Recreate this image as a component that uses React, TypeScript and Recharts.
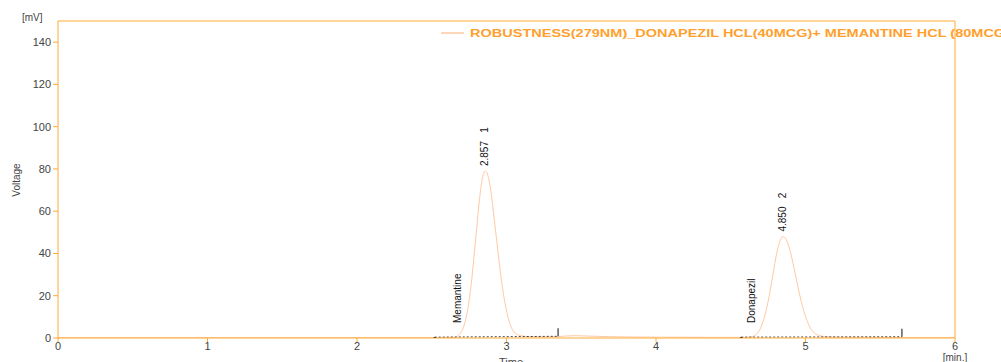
import { ComposedChart, Line, Scatter, XAxis, YAxis, ReferenceLine } from 'recharts';

// ─── Data ────────────────────────────────────────────────────────────────────

const times = [
  0, 0.5, 1, 1.5, 2, 2.4, 2.6, 2.65, 2.7, 2.73, 2.76, 2.79, 2.82, 2.84, 2.857, 2.87, 2.89, 2.92,
  2.95, 2.98, 3.01, 3.05, 3.1, 3.16, 3.25, 3.35, 3.45, 3.55, 3.7, 4.0, 4.4, 4.6, 4.65, 4.7, 4.74,
  4.78, 4.81, 4.83, 4.85, 4.87, 4.9, 4.93, 4.97, 5.01, 5.05, 5.1, 5.16, 5.25, 5.4, 5.7, 6.0,
];
const voltage = [
  0.2, 0.2, 0.2, 0.2, 0.2, 0.2, 0.2, 0.3, 3.2, 9.7, 23, 44, 66, 76, 79, 78, 72, 55,
  36.5, 20.6, 9.9, 2.9, 1.0, 0.6, 0.5, 0.7, 1.1, 0.9, 0.6, 0.4, 0.3, 0.3, 0.8, 4.8, 14,
  29, 41, 46, 48, 46.7, 40.4, 30.8, 17.7, 8.2, 3.0, 1.0, 0.5, 0.3, 0.3, 0.2, 0.2,
];

// integration baselines: [start, end] time and level
const base1T = [2.52, 3.345];
const base1V = [0.4, 0.8];
const base2T = [4.57, 5.645];
const base2V = [0.4, 0.6];

const peakTimes = [2.857, 4.85];
const peakHeights = [79, 48];
const peakLabels = ['2.857   1', '4.850   2'];
const peakNames = ['Memantine', 'Donapezil'];
const nameTimes = [2.675, 4.64];

const yTicks = [0, 20, 40, 60, 80, 100, 120, 140];
const xTicks = [0, 1, 2, 3, 4, 5, 6];

const seriesName = 'ROBUSTNESS(279NM)_DONAPEZIL HCL(40MCG)+ MEMANTINE HCL (80MCG)';

// ─── Styling ─────────────────────────────────────────────────────────────────

const AXIS = '#FFAA33';
const TRACE = '#FFC9A3';
const LEGEND = '#FF9F2E';
const TEXT = '#444';
const FONT = '"Liberation Sans", Arial, sans-serif';
const NARROW = '"Liberation Sans Narrow", "Liberation Sans", Arial, sans-serif';

const trace = times.map((t, i) => ({ t, v: voltage[i] }));
const baseline1 = base1T.map((t, i) => ({ t, v: base1V[i] }));
const baseline2 = base2T.map((t, i) => ({ t, v: base2V[i] }));
const peaks = peakTimes.map((t, i) => ({ t, v: peakHeights[i], label: peakLabels[i] }));
const names = nameTimes.map((t, i) => ({ t, v: 0, label: peakNames[i] }));

// start of a baseline: small block below; end: short tick up
function BaseMark(props: any) {
  const { cx, cy, index } = props;
  if (cx == null || cy == null) return null;
  if (index === 0) {
    return <rect x={cx - 1} y={cy} width={2} height={3} fill="#222" />;
  }
  return <line x1={cx} x2={cx} y1={cy} y2={cy - 8} stroke="#333" strokeWidth={1.2} />;
}

function PeakLabel(props: any) {
  const { cx, cy, payload } = props;
  const x = cx + 3;
  const y = cy - 5;
  return (
    <text
      x={x}
      y={y}
      transform={`rotate(-90 ${x} ${y})`}
      fontSize={10}
      fontFamily={NARROW}
      fill="#111"
      style={{ whiteSpace: 'pre' }}
    >
      {payload.label}
    </text>
  );
}

function NameLabel(props: any) {
  const { cx, cy, payload } = props;
  const x = cx + 3;
  const y = cy - 15;
  return (
    <text x={x} y={y} transform={`rotate(-90 ${x} ${y})`} fontSize={10} fontFamily={NARROW} fill="#111">
      {payload.label}
    </text>
  );
}

export default function App() {
  return (
    <div style={{ position: 'absolute', left: 0, top: 0, width: 1001, height: 362, background: '#fff', overflow: 'hidden' }}>
      <ComposedChart width={1001} height={362} margin={{ top: 21, right: 46, bottom: 0, left: 0 }}>
        <XAxis
          type="number"
          dataKey="t"
          domain={[0, 6]}
          ticks={xTicks}
          height={24}
          stroke={AXIS}
          tickSize={4}
          tick={{ fill: TEXT, fontSize: 11, fontFamily: FONT, dy: -2 }}
          allowDataOverflow
        />
        <YAxis
          type="number"
          dataKey="v"
          domain={[0, 150]}
          ticks={yTicks}
          width={58}
          stroke={AXIS}
          tickSize={5}
          tick={{ fill: TEXT, fontSize: 11, fontFamily: FONT }}
          allowDataOverflow
        />
        <ReferenceLine y={150} stroke={AXIS} ifOverflow="visible" />
        <ReferenceLine x={6} stroke={AXIS} ifOverflow="visible" />

        <Line
          data={trace}
          dataKey="v"
          type="monotone"
          stroke={TRACE}
          strokeWidth={1}
          dot={false}
          isAnimationActive={false}
        />
        <Line
          data={baseline1}
          dataKey="v"
          type="linear"
          stroke="#444"
          strokeWidth={1}
          strokeDasharray="2 2"
          dot={<BaseMark />}
          isAnimationActive={false}
        />
        <Line
          data={baseline2}
          dataKey="v"
          type="linear"
          stroke="#444"
          strokeWidth={1}
          strokeDasharray="2 2"
          dot={<BaseMark />}
          isAnimationActive={false}
        />
        <Scatter data={peaks} dataKey="v" shape={<PeakLabel />} isAnimationActive={false} />
        <Scatter data={names} dataKey="v" shape={<NameLabel />} isAnimationActive={false} />

        {/* axis captions and legend */}
        <text x={22} y={21} fontSize={10} fontFamily={FONT} fill={TEXT}>[mV]</text>
        <text x={20} y={180} fontSize={10} fontFamily={NARROW} fill={TEXT} textAnchor="middle" transform="rotate(-90 20 180)">
          Voltage
        </text>
        <text x={511} y={366} fontSize={11} fontFamily={FONT} fill={TEXT} textAnchor="middle">Time</text>
        <text x={955} y={361} fontSize={10} fontFamily={FONT} fill={TEXT} textAnchor="middle">[min.]</text>
        <line x1={441} x2={464} y1={33} y2={33} stroke={TRACE} strokeWidth={1.5} />
        <text
          x={470}
          y={37}
          fontSize={10.5}
          fontWeight="bold"
          fontFamily={FONT}
          fill={LEGEND}
          textLength={540}
          lengthAdjust="spacingAndGlyphs"
        >
          {seriesName}
        </text>
      </ComposedChart>
    </div>
  );
}
